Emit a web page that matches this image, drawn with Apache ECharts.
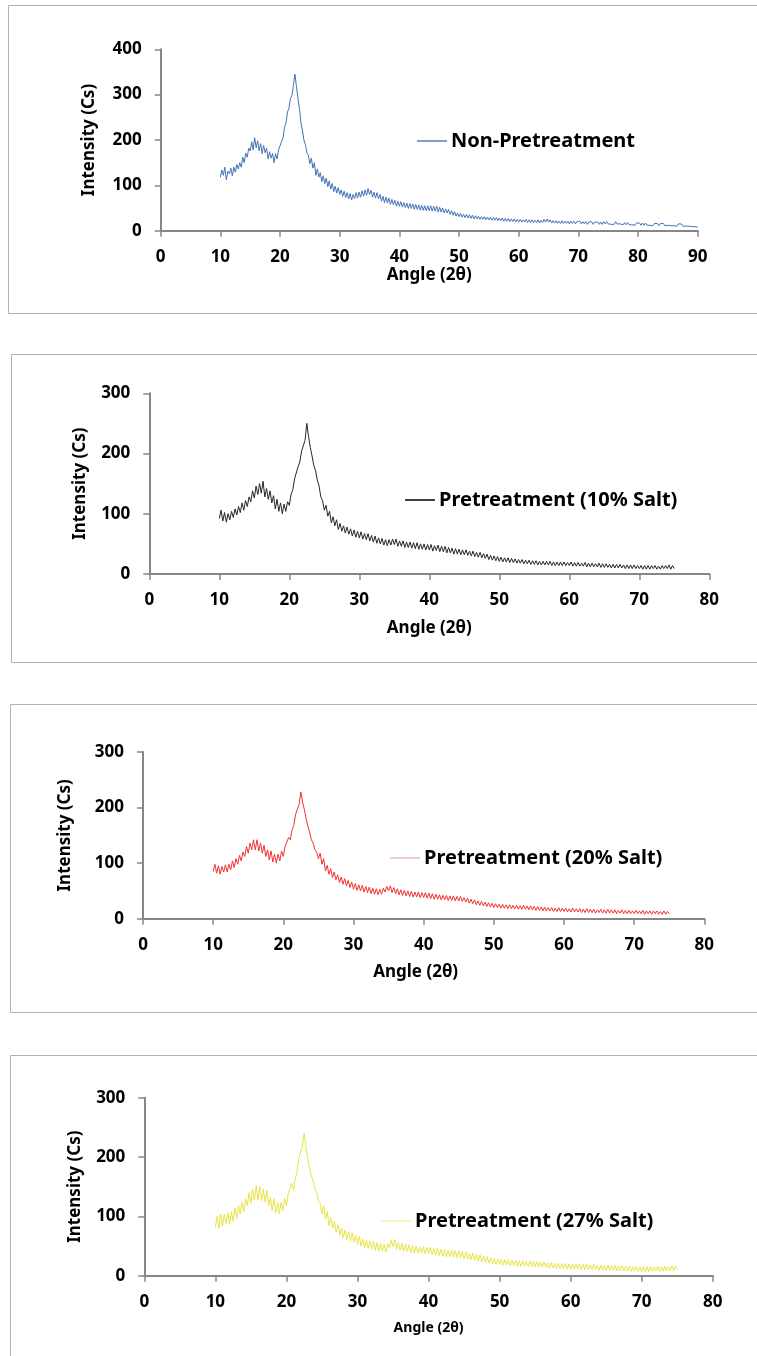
<!DOCTYPE html>
<html>
<head>
<meta charset="utf-8">
<title>XRD patterns</title>
<script src="https://cdn.jsdelivr.net/npm/echarts@6/dist/echarts.min.js"></script>
<style>
html, body { margin: 0; padding: 0; background: #fff; }
#chart { width: 757px; height: 1356px; }
</style>
</head>
<body>
<div id="chart"></div>
<script>
// angle (2θ) of the first reading and step between readings
var ANGLE_START = 10;
var ANGLE_STEP = 0.25;

var seriesNames = ['Non-Pretreatment', 'Pretreatment (10% Salt)', 'Pretreatment (20% Salt)', 'Pretreatment (27% Salt)'];

// intensity (Cs), one row per degree, 10 → 90
var nonPretreat = [
    118,134,122,140, 112,131,126,138, 121,140,129,146, 136,150,140,162, 150,171,162,182,
    176,196,178,205, 183,198,176,192, 170,188,172,182, 158,174,160,170, 150,170,158,178,
    176,196,205,228, 238,262,270,292, 298,322,345,318, 292,270,238,222, 200,190,172,166,
    148,160,138,150, 122,136,118,128, 108,121,104,116, 97,110,92,104, 86,98,83,95,
    80,90,76,87, 73,84,70,82, 68,80,71,84, 72,85,74,88, 76,90,78,93,
    80,89,74,85, 72,84,70,80, 65,76,62,74, 61,72,58,69, 57,67,54,65,
    54,64,52,62, 51,61,49,60, 49,59,47,58, 47,57,45,56, 45,55,44,55,
    44,55,43,54, 43,54,41,52, 41,50,39,48, 39,47,36,44, 34,42,32,39,
    31,38,30,36, 29,36,28,35, 27,34,26,33, 26,32,25,31, 25,31,24,30,
    24,30,23,29, 23,29,22,28, 22,28,21,27, 21,27,20,26, 20,26,19,25,
    19,25,19,24, 19,25,18,24, 18,24,18,23, 18,24,17,23, 18,25,19,26,
    19,24,17,22, 17,22,16,21, 16,22,16,21, 16,21,15,21, 16,21,15,20,
    16,21,15,20, 15,20,14,19, 15,20,14,19, 15,19,14,19, 14,20,15,20,
    15,19,14,18, 14,20,15,19, 15,18,13,18, 13,18,13,17, 13,17,12,17,
    13,17,12,17, 12,17,12,16, 12,16,11,16, 12,16,11,16, 12,16,11,15,
    12,16,11,15, 11,15,10,15, 11,15,10,14, 10,14,10,14, 9,13,9,12,
    8
];
// 10 → 75
var salt10 = [
    92,106,88,102, 86,100,90,104, 94,108,98,112, 102,118,106,122, 112,128,120,138,
    126,146,132,150, 134,154,128,142, 124,138,118,130, 108,124,104,118, 100,116,104,120,
    114,132,140,158, 160,178,186,204, 204,222,250,228, 210,196,180,172, 156,146,128,122,
    106,114,96,104, 85,95,80,90, 74,84,71,80, 68,78,66,75, 63,73,61,71,
    60,70,58,67, 57,67,55,64, 53,63,51,60, 50,59,48,57, 47,57,48,58,
    49,58,46,55, 46,55,44,53, 44,53,43,52, 42,52,41,50, 41,50,40,49,
    40,49,38,47, 39,48,37,46, 37,46,35,44, 35,43,33,42, 33,41,32,40,
    32,40,31,38, 30,38,29,36, 28,36,27,34, 26,33,24,31, 23,30,22,29,
    21,28,20,27, 20,27,19,26, 19,25,18,24, 18,24,17,23, 17,23,16,22,
    16,22,15,21, 15,21,15,21, 15,21,14,20, 14,20,14,20, 14,20,14,19,
    14,20,13,19, 13,19,13,18, 13,19,12,18, 12,18,12,17, 12,18,11,17,
    11,17,11,16, 10,16,10,16, 10,16,10,15, 9,15,9,15, 9,15,9,14,
    9,14,8,14, 8,14,8,14, 9,14,8,13, 8,14,9,14, 9,15,8,14,
    9
];
var salt20 = [
    85,98,82,95, 80,94,84,97, 84,98,88,104, 92,108,98,114, 104,120,112,130,
    118,136,124,142, 124,142,122,136, 118,132,112,124, 106,122,102,116, 100,116,104,122,
    112,130,128,146, 142,160,168,188, 186,206,228,210, 196,180,166,156, 142,136,124,120,
    108,118,98,108, 86,96,80,90, 74,84,70,79, 65,75,62,72, 59,69,56,66,
    53,63,51,61, 50,60,48,58, 47,57,45,55, 44,54,43,53, 44,55,48,58,
    50,59,47,56, 45,54,43,52, 42,51,41,50, 40,49,39,48, 39,48,38,47,
    38,47,37,46, 36,45,35,44, 35,43,34,42, 34,42,33,41, 33,41,32,40,
    32,40,31,38, 30,37,28,35, 27,34,25,32, 24,31,23,30, 22,29,21,28,
    20,27,20,26, 19,26,19,25, 18,25,18,24, 18,24,17,23, 17,24,17,23,
    16,23,16,22, 15,22,15,21, 14,21,14,20, 14,20,13,19, 13,20,13,19,
    13,19,12,18, 12,19,12,18, 12,18,11,17, 11,18,11,17, 11,17,10,16,
    11,17,10,16, 10,17,10,16, 10,16,9,15, 10,16,9,15, 9,15,9,14,
    9,15,9,14, 9,15,8,14, 9,14,8,14, 9,14,8,13, 8,14,8,13,
    9
];
var salt27 = [
    82,100,80,104, 84,104,88,106, 86,108,92,114, 96,118,104,124, 108,130,118,140,
    122,146,128,152, 128,150,126,146, 124,144,118,132, 110,130,106,124, 104,124,110,130,
    118,138,136,156, 144,164,176,198, 198,220,240,218, 196,182,168,160, 146,140,126,122,
    104,118,96,108, 84,98,80,92, 73,86,68,80, 64,77,61,74, 58,72,56,68,
    53,66,50,62, 47,60,46,58, 45,58,43,56, 42,55,41,53, 40,54,47,60,
    49,61,44,56, 43,55,41,53, 41,52,39,51, 39,50,38,49, 38,49,37,48,
    37,48,36,46, 35,46,34,45, 33,44,32,43, 32,43,31,42, 31,42,30,40,
    29,40,28,38, 27,38,26,36, 25,35,23,33, 22,32,21,30, 20,29,19,28,
    19,28,18,27, 18,27,17,26, 17,26,16,25, 16,25,16,24, 16,25,15,24,
    15,24,14,23, 14,23,14,22, 13,22,13,21, 12,21,12,20, 12,21,11,20,
    11,20,11,19, 11,20,10,19, 10,19,10,18, 10,19,10,18, 9,18,9,17,
    9,18,9,17, 9,17,8,16, 8,17,8,16, 8,16,7,15, 8,16,7,15,
    7,16,7,15, 7,16,8,15, 8,16,7,15, 8,16,8,15, 8,17,8,16,
    10
];

var allValues = [nonPretreat, salt10, salt20, salt27];
var xMaxes = [90, 80, 80, 80];
var yMaxes = [400, 300, 300, 300];

// layout of the four stacked panels
var panels = [
    { box: [8.5, 5.5, 308], grid: { left: 160.7, top: 49.3, width: 537, height: 181.4 },
      line: '#4274b8', icon: '#4f81bd', legend: [417, 131], yGap: 63, xGap: 36, xFont: 17, xPad: 0 },
    { box: [11.5, 354.5, 308], grid: { left: 149.3, top: 393.3, width: 560, height: 180.7 },
      line: '#262626', icon: '#000000', legend: [405, 490], yGap: 61, xGap: 46, xFont: 17, xPad: 0 },
    { box: [10.5, 704.5, 308], grid: { left: 143, top: 752, width: 561.3, height: 166.7 },
      line: '#f23232', icon: '#f6b8b8', legend: [390, 848], yGap: 69, xGap: 45, xFont: 17, xPad: 16 },
    { box: [10.5, 1055.5, 400], grid: { left: 144.3, top: 1097.7, width: 568.5, height: 178 },
      line: '#e8e446', icon: '#f4f0a8', legend: [381, 1211], yGap: 61, xGap: 45, xFont: 14, xPad: 0 }
];

function toPairs(values) {
    return values.map(function (v, i) { return [ANGLE_START + i * ANGLE_STEP, v]; });
}

var axisColor = '#868686';
var font = 'Noto Sans';

var option = {
    backgroundColor: '#fff',
    animation: false,
    graphic: [],
    grid: [],
    xAxis: [],
    yAxis: [],
    legend: [],
    series: []
};

panels.forEach(function (p, i) {
    option.graphic.push({
        type: 'rect',
        shape: { x: p.box[0], y: p.box[1], width: 800, height: p.box[2] },
        style: { fill: 'none', stroke: '#b2b2b2', lineWidth: 1 },
        z: -1
    });
    option.grid.push(p.grid);
    option.xAxis.push({
        type: 'value', gridIndex: i, min: 0, max: xMaxes[i], interval: 10,
        name: 'Angle (2θ)', nameLocation: 'middle', nameGap: p.xGap,
        nameTextStyle: { fontFamily: font, fontWeight: 'bold', fontSize: p.xFont, color: '#000',
                         padding: [0, p.xPad, 0, 0] },
        axisLine: { lineStyle: { color: axisColor, width: 2 } },
        axisTick: { show: true, length: 6, lineStyle: { color: axisColor, width: 1.5 } },
        axisLabel: { margin: 18, fontFamily: font, fontWeight: 'bold', fontSize: 17, color: '#000' },
        splitLine: { show: false }
    });
    option.yAxis.push({
        type: 'value', gridIndex: i, min: 0, max: yMaxes[i], interval: 100,
        name: 'Intensity (Cs)', nameLocation: 'middle', nameGap: p.yGap,
        nameTextStyle: { fontFamily: font, fontWeight: 'bold', fontSize: 17, color: '#000' },
        axisLine: { show: true, lineStyle: { color: axisColor, width: 2 } },
        axisTick: { show: true, length: 6, lineStyle: { color: axisColor, width: 1.5 } },
        axisLabel: { margin: 19, fontFamily: font, fontWeight: 'bold', fontSize: 17, color: '#000' },
        splitLine: { show: false }
    });
    option.legend.push({
        left: p.legend[0], top: p.legend[1], padding: 0,
        icon: 'rect', itemWidth: 30, itemHeight: 1.5, itemGap: 0,
        data: [{ name: seriesNames[i], itemStyle: { color: p.icon } }],
        textStyle: { fontFamily: font, fontWeight: 'bold', fontSize: 20, color: '#000', padding: [0, 0, 0, -1] }
    });
    option.series.push({
        name: seriesNames[i], type: 'line', xAxisIndex: i, yAxisIndex: i,
        data: toPairs(allValues[i]), showSymbol: false, symbol: 'none',
        lineStyle: { color: p.line, width: 1 },
        itemStyle: { color: p.line }
    });
});

var myChart = echarts.init(document.getElementById('chart'));
myChart.setOption(option);
</script>
</body>
</html>
